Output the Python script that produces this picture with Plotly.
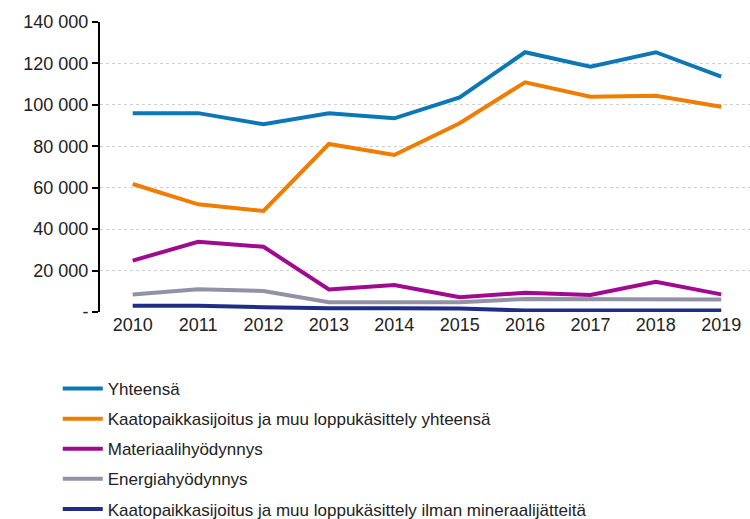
import plotly.graph_objects as go

years = ["2010", "2011", "2012", "2013", "2014", "2015", "2016", "2017", "2018", "2019"]
yhteensa = [95900, 96000, 90600, 95900, 93500, 103600, 125400, 118400, 125400, 113600]
kaato_yht = [61800, 52000, 48800, 81100, 75800, 91100, 110900, 103900, 104400, 99100]
materiaali = [24800, 33900, 31500, 10900, 13000, 7100, 9300, 8200, 14600, 8500]
energia = [8500, 11000, 10100, 4700, 4700, 4700, 6300, 6300, 6300, 6000]
kaato_ilman = [3000, 3000, 2300, 1800, 1800, 1700, 700, 700, 700, 700]

series_names = [
    "Yhteensä",
    "Kaatopaikkasijoitus ja muu loppukäsittely yhteensä",
    "Materiaalihyödynnys",
    "Energiahyödynnys",
    "Kaatopaikkasijoitus ja muu loppukäsittely ilman mineraalijätteitä",
]
series_values = [yhteensa, kaato_yht, materiaali, energia, kaato_ilman]
colors = ["#0d77b6", "#f07d00", "#a00a8f", "#9292a6", "#1f2d88"]

tick_vals = [0, 20000, 40000, 60000, 80000, 100000, 120000, 140000]
tick_text = ["-", "20 000", "40 000", "60 000", "80 000", "100 000", "120 000", "140 000"]

fig = go.Figure()
for i, (name, vals, col) in enumerate(zip(series_names, series_values, colors)):
    fig.add_trace(go.Scatter(
        x=years, y=vals, name=name, mode="lines",
        line=dict(color=col, width=4),
        legendgroup=f"g{i}",
    ))

fig.update_layout(
    width=750, height=519,
    margin=dict(l=100, r=0, t=22, b=207, autoexpand=False),
    paper_bgcolor="white", plot_bgcolor="white",
    font=dict(family="Liberation Sans, Arial, sans-serif", size=18, color="#222222"),
    showlegend=True,
    legend=dict(
        orientation="v", xref="container", yref="container",
        x=0.077, y=1 - 371 / 519, yanchor="top", xanchor="left",
        font=dict(size=17, color="#222222"),
        tracegroupgap=5, itemwidth=40, bgcolor="rgba(0,0,0,0)",
    ),
    xaxis=dict(
        type="category", range=[-0.5, 9.44], showgrid=False,
        showline=False, ticks="", tickfont=dict(size=18), automargin=False,
    ),
    yaxis=dict(
        range=[0, 140000], tickvals=tick_vals, ticktext=tick_text,
        showgrid=True, gridcolor="#d0d0d0", griddash="dot", gridwidth=1,
        showline=True, linecolor="black", linewidth=2,
        ticks="outside", ticklen=6, tickcolor="black", tickwidth=2,
        zeroline=False, tickfont=dict(size=18), automargin=False,
    ),
)

fig.write_html("out.html", config={"displayModeBar": False},
               post_script="document.body.style.margin='0';")
